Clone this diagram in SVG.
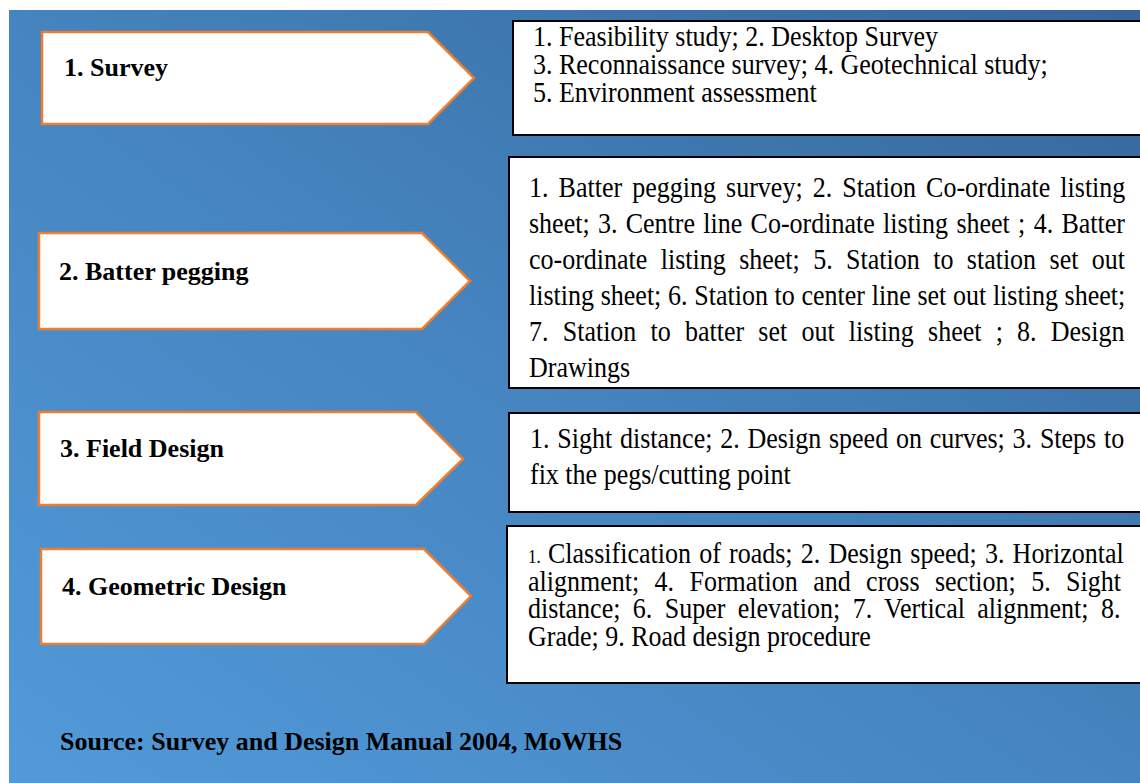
<svg xmlns="http://www.w3.org/2000/svg" width="1140" height="783" viewBox="0 0 1140 783">
  <defs>
    <linearGradient id="bg" x1="0" y1="1" x2="1" y2="0">
      <stop offset="0" stop-color="#529ada"/>
      <stop offset="0.5" stop-color="#4584bf"/>
      <stop offset="1" stop-color="#35669a"/>
    </linearGradient>
    <style>
      .chev { fill: #ffffff; stroke: #ED7D31; stroke-width: 2.5; stroke-linejoin: miter; }
      .box { fill: #ffffff; stroke: #000000; stroke-width: 2; }
      .head { font-family: "Liberation Serif", "Times New Roman", serif; font-weight: bold; font-size: 26px; fill: #000000; }
      .body { font-family: "Liberation Serif", "Times New Roman", serif; font-size: 26px; fill: #000000; }
    </style>
  </defs>
  <rect x="0" y="0" width="1140" height="783" fill="#ffffff"/>
  <rect x="9" y="10" width="1131" height="773" fill="url(#bg)"/>

  <g id="step1">
    <polygon class="chev" points="42,32 428,32 474,78 428,124 42,124"/>
    <text class="head" x="64" y="76">1. Survey</text>
  </g>
  <g id="step2">
    <polygon class="chev" points="39,233 422,233 470,281 422,329 39,329"/>
    <text class="head" x="59" y="280">2. Batter pegging</text>
  </g>
  <g id="step3">
    <polygon class="chev" points="39,412 416,412 463,459 416,505 39,505"/>
    <text class="head" x="60" y="457">3. Field Design</text>
  </g>
  <g id="step4">
    <polygon class="chev" points="41,549 424,549 471,596 424,644 41,644"/>
    <text class="head" x="62" y="595">4. Geometric Design</text>
  </g>

  <g id="detail1">
    <rect class="box" x="513" y="21" width="640" height="114"/>
    <text class="body" x="533" y="46" transform="matrix(1 0 0 1.1 0 -4.6)">1. Feasibility study; 2. Desktop Survey</text>
    <text class="body" x="533" y="74" transform="matrix(1 0 0 1.1 0 -7.4)">3. Reconnaissance survey; 4. Geotechnical study;</text>
    <text class="body" x="533" y="102" transform="matrix(1 0 0 1.1 0 -10.2)">5. Environment assessment</text>
  </g>
  <g id="detail2">
    <rect class="box" x="509" y="157" width="640" height="231"/>
    <text class="body" x="529" y="197" word-spacing="3.6" transform="matrix(1 0 0 1.1 0 -19.7)">1. Batter pegging survey; 2. Station Co-ordinate listing</text>
    <text class="body" x="529" y="233" word-spacing="1.8" transform="matrix(1 0 0 1.1 0 -23.3)">sheet; 3. Centre line Co-ordinate listing sheet ; 4. Batter</text>
    <text class="body" x="529" y="269" word-spacing="6.9" transform="matrix(1 0 0 1.1 0 -26.9)">co-ordinate listing sheet; 5. Station to station set out</text>
    <text class="body" x="529" y="305" word-spacing="0.2" transform="matrix(1 0 0 1.1 0 -30.5)">listing sheet; 6. Station to center line set out listing sheet;</text>
    <text class="body" x="529" y="341" word-spacing="7.7" transform="matrix(1 0 0 1.1 0 -34.1)">7. Station to batter set out listing sheet ; 8. Design</text>
    <text class="body" x="529" y="377" transform="matrix(1 0 0 1.1 0 -37.7)">Drawings</text>
  </g>
  <g id="detail3">
    <rect class="box" x="509" y="413" width="640" height="99"/>
    <text class="body" x="530" y="448" word-spacing="1.3" transform="matrix(1 0 0 1.1 0 -44.8)">1. Sight distance; 2. Design speed on curves; 3. Steps to</text>
    <text class="body" x="530" y="484" transform="matrix(1 0 0 1.1 0 -48.4)">fix the pegs/cutting point</text>
  </g>
  <g id="detail4">
    <rect class="box" x="507" y="526" width="640" height="157"/>
    <text class="body" x="528" y="563" transform="matrix(1 0 0 1.1 0 -56.3)"><tspan font-size="17">1.</tspan><tspan x="548" word-spacing="1.7">Classification of roads; 2. Design speed; 3. Horizontal</tspan></text>
    <text class="body" x="528" y="591" word-spacing="8.9" transform="matrix(1 0 0 1.1 0 -59.1)">alignment; 4. Formation and cross section; 5. Sight</text>
    <text class="body" x="528" y="618" word-spacing="5.9" transform="matrix(1 0 0 1.1 0 -61.8)">distance; 6. Super elevation; 7. Vertical alignment; 8.</text>
    <text class="body" x="528" y="646" transform="matrix(1 0 0 1.1 0 -64.6)">Grade; 9. Road design procedure</text>
  </g>

  <g id="connectors"></g>

  <text id="source" class="head" x="60" y="750">Source: Survey and Design Manual 2004, MoWHS</text>
</svg>
